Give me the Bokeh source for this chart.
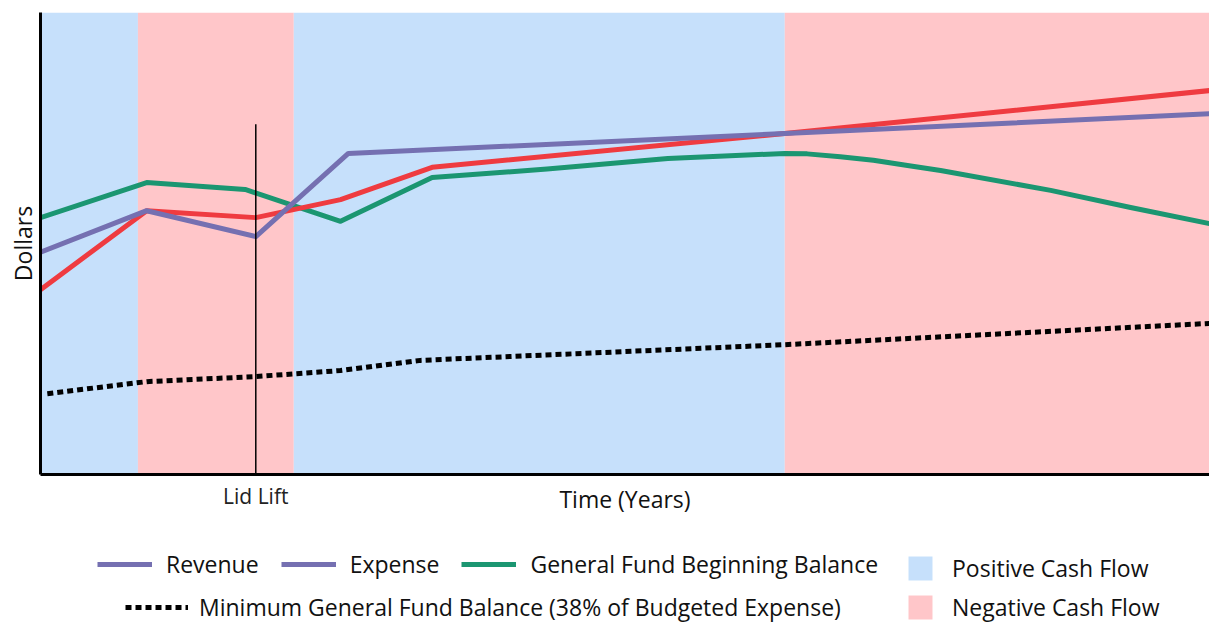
from bokeh.plotting import figure
from bokeh.layouts import column
from bokeh.models import Range1d, FixedTicker, Legend, LegendItem, ColumnDataSource
from bokeh.embed import file_html
from bokeh.resources import INLINE

# Cash-flow periods along the projection (years)
band_start = [0.0, 1.0, 2.6, 7.64]
band_end = [1.0, 2.6, 7.64, 12.0]
band_color = ["#c6e0fb", "#ffc6c9", "#c6e0fb", "#ffc6c9"]

lid_lift_year = 2.21
lid_lift_top = 75.8

revenue_years = [0.0, 1.09, 2.21, 3.16, 7.64, 12.0]
revenue = [48.1, 57.1, 51.5, 69.5, 73.8, 78.1]

expense_years = [0.0, 1.09, 2.21, 3.08, 4.02, 7.64, 12.0]
expense = [40.0, 57.1, 55.6, 59.5, 66.5, 73.8, 83.1]

balance_years = [0.0, 1.09, 2.10, 3.08, 4.02, 5.2, 6.44, 7.64, 7.87, 8.21, 8.55,
                 8.90, 9.24, 10.37, 11.19, 12.0]
balance = [55.6, 63.2, 61.7, 54.8, 64.3, 66.1, 68.4, 69.5, 69.4, 68.8, 68.0,
           66.9, 65.8, 61.5, 57.8, 54.3]

min_balance_years = [0.07, 1.09, 2.21, 3.08, 3.90, 7.64, 12.0]
min_balance = [17.5, 20.1, 21.2, 22.5, 24.7, 28.1, 32.7]

PURPLE = "#7570b1"
RED = "#ef3b40"
GREEN = "#1b9671"
BLUE_BAND = "#c6e0fb"
PINK_BAND = "#ffc6c9"
FONT = "Open Sans"

p = figure(width=1209, height=530, output_backend="svg", toolbar_location=None,
           x_range=Range1d(0, 12), y_range=Range1d(0, 100),
           min_border_left=40, min_border_right=0, min_border_top=12, min_border_bottom=56)
p.outline_line_color = None
p.xgrid.visible = False
p.ygrid.visible = False

p.quad(left="left", right="right", bottom=0, top=100,
       source=ColumnDataSource(dict(left=band_start, right=band_end, color=band_color)),
       fill_color="color", line_color=None)

p.line(min_balance_years, min_balance, line_color="black", line_width=5, line_dash="6 4")
p.line(balance_years, balance, line_color=GREEN, line_width=5, line_join="round")
p.line(expense_years, expense, line_color=RED, line_width=5, line_join="round")
p.line(revenue_years, revenue, line_color=PURPLE, line_width=5, line_join="round")

p.segment(x0=[lid_lift_year], y0=[0], x1=[lid_lift_year], y1=[lid_lift_top],
          line_color="black", line_width=1.5)

# Axes: bare lines, a single "Lid Lift" marker on the time axis
p.xaxis.ticker = FixedTicker(ticks=[lid_lift_year])
p.xaxis.major_label_overrides = {lid_lift_year: "Lid Lift"}
p.xaxis.major_tick_line_color = None
p.xaxis.minor_tick_line_color = None
p.xaxis.axis_line_width = 3
p.xaxis.axis_line_color = "black"
p.xaxis.major_label_text_font = FONT
p.xaxis.major_label_text_font_size = "21px"
p.xaxis.major_label_text_color = "#222222"
p.xaxis.major_label_standoff = 1
p.xaxis.axis_label = "Time (Years)"
p.xaxis.axis_label_text_font = FONT
p.xaxis.axis_label_text_font_size = "23px"
p.xaxis.axis_label_text_font_style = "normal"
p.xaxis.axis_label_text_color = "#111111"
p.xaxis.axis_label_standoff = -30

p.yaxis.ticker = FixedTicker(ticks=[])
p.yaxis.major_tick_line_color = None
p.yaxis.minor_tick_line_color = None
p.yaxis.axis_line_width = 3
p.yaxis.axis_line_color = "black"
p.yaxis.axis_label = "Dollars"
p.yaxis.axis_label_text_font = FONT
p.yaxis.axis_label_text_font_size = "23px"
p.yaxis.axis_label_text_font_style = "normal"
p.yaxis.axis_label_text_color = "#111111"
p.yaxis.axis_label_standoff = 2

# Key strip under the chart; its frame lines up with the chart frame (x = 40)
k = figure(width=1209, height=94, output_backend="svg", toolbar_location=None,
           x_range=Range1d(0, 1), y_range=Range1d(0, 1),
           x_axis_type=None, y_axis_type=None, min_border=0)
k.outline_line_color = None
k.xgrid.visible = False
k.ygrid.visible = False

# key glyphs, parked outside the visible range
off = [-2, -1]
rev_key = k.line(off, off, line_color=PURPLE, line_width=5)
exp_key = k.line(off, off, line_color=PURPLE, line_width=5)
bal_key = k.line(off, off, line_color=GREEN, line_width=5)
min_key = k.line(off, off, line_color="black", line_width=5, line_dash="6 4")
pos_key = k.quad(left=[-2], right=[-1], top=[-1], bottom=[-2], fill_color=BLUE_BAND, line_color=None)
neg_key = k.quad(left=[-2], right=[-1], top=[-1], bottom=[-2], fill_color=PINK_BAND, line_color=None)


def make_legend(items, loc, orientation="horizontal", glyph_width=55, glyph_height=30,
                spacing=22, standoff=14):
    lg = Legend(items=items, location=loc, orientation=orientation,
                label_text_font=FONT, label_text_font_size="23px", label_text_color="#111111",
                glyph_width=glyph_width, glyph_height=glyph_height, spacing=spacing,
                label_standoff=standoff, padding=0, margin=0,
                border_line_color=None, background_fill_alpha=0)
    k.add_layout(lg)
    return lg


make_legend([LegendItem(label="Revenue", renderers=[rev_key]),
             LegendItem(label="Expense", renderers=[exp_key]),
             LegendItem(label="General Fund Beginning Balance", renderers=[bal_key])],
            (57, 44))
make_legend([LegendItem(label="Minimum General Fund Balance (38% of Budgeted Expense)",
                        renderers=[min_key])],
            (85, 1), glyph_width=63, standoff=11)
make_legend([LegendItem(label="Positive Cash Flow", renderers=[pos_key]),
             LegendItem(label="Negative Cash Flow", renderers=[neg_key])],
            (865, 1), orientation="vertical", glyph_width=30, glyph_height=30,
            spacing=7, standoff=17)

layout = column(p, k, spacing=0)
open("out.html", "w").write(file_html(layout, INLINE))
